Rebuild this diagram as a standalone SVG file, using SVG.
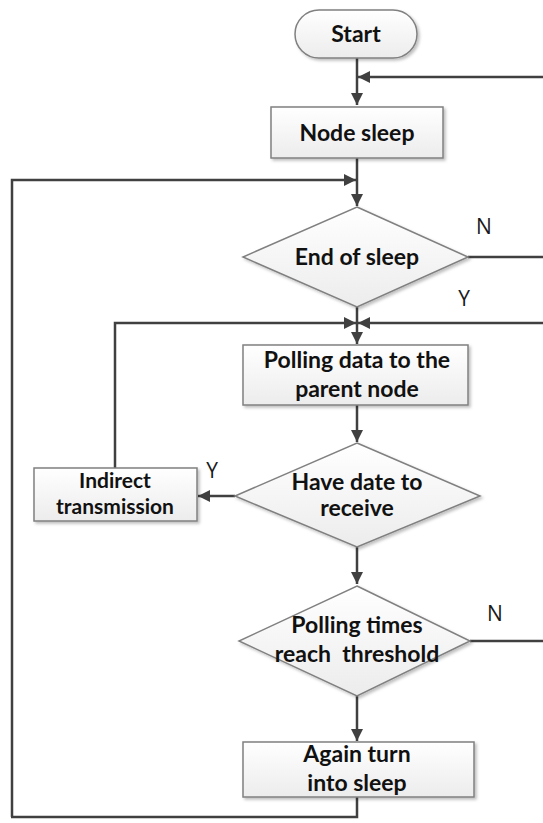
<svg xmlns="http://www.w3.org/2000/svg" width="543" height="823" viewBox="0 0 543 823">
<defs>
<linearGradient id="g" x1="0" y1="0" x2="0" y2="1">
<stop offset="0" stop-color="#ffffff"/>
<stop offset="1" stop-color="#ececec"/>
</linearGradient>
<filter id="sh" x="-10%" y="-10%" width="130%" height="140%">
<feDropShadow dx="2" dy="2" stdDeviation="1.5" flood-color="#000" flood-opacity="0.25"/>
</filter>
<marker id="a" viewBox="0 0 12 12" refX="12" refY="6" markerWidth="12" markerHeight="12" orient="auto" markerUnits="userSpaceOnUse">
<path d="M0,0 L12,6 L0,12 z" fill="#404040"/>
</marker>
</defs>
<style>
.n{fill:url(#g);stroke:#808080;stroke-width:1.5;filter:url(#sh)}
.t{font-family:Lato,"Open Sans",sans-serif;font-weight:bold;font-size:23px;fill:#111;text-anchor:middle}
.s{font-size:21px}
.l{font-family:"Open Sans",sans-serif;font-size:21px;fill:#1a1a1a;text-anchor:middle}
.c{fill:none;stroke:#404040;stroke-width:2.5}
</style>
<rect width="543" height="823" fill="#fff"/>
<g id="connectors">
<path class="c" d="M357,58 V105" marker-end="url(#a)"/>
<path class="c" d="M543,77 H358" marker-end="url(#a)"/>
<path class="c" d="M357,158 V206" marker-end="url(#a)"/>
<path class="c" d="M12,817 V180 H356" marker-end="url(#a)"/>
<path class="c" d="M468,257 H543"/>
<path class="c" d="M357,307 V344" marker-end="url(#a)"/>
<path class="c" d="M115,468 V323 H356" marker-end="url(#a)"/>
<path class="c" d="M543,323 H358" marker-end="url(#a)"/>
<path class="c" d="M357,405 V442" marker-end="url(#a)"/>
<path class="c" d="M235,496 H198" marker-end="url(#a)"/>
<path class="c" d="M357,547 V584" marker-end="url(#a)"/>
<path class="c" d="M470,641 H543"/>
<path class="c" d="M357,696 V741" marker-end="url(#a)"/>
<path class="c" d="M357,797 V817 H11"/>
</g>
<g id="start">
<rect class="n" x="295" y="10" width="122" height="48" rx="24"/>
<text class="t" x="356" y="42">Start</text>
</g>
<g id="node-sleep">
<rect class="n" x="271" y="107" width="172" height="51"/>
<text class="t" x="357" y="141">Node sleep</text>
</g>
<g id="end-of-sleep">
<polygon class="n" points="357,207 468,257 357,307 243,257"/>
<text class="t" x="357" y="265">End of sleep</text>
<text class="l" x="484" y="234">N</text>
<text class="l" x="464" y="306">Y</text>
</g>
<g id="polling-data">
<rect class="n" x="243" y="345" width="225" height="60"/>
<text class="t" x="357" y="368">Polling data to the</text>
<text class="t" x="357" y="397">parent node</text>
</g>
<g id="have-date">
<polygon class="n" points="357,443 480,496 357,547 235,496"/>
<text class="t" x="357" y="490">Have date to</text>
<text class="t" x="357" y="516">receive</text>
<text class="l" x="212" y="478">Y</text>
</g>
<g id="indirect">
<rect class="n" x="34" y="468" width="163" height="53"/>
<text class="t s" x="115" y="488">Indirect</text>
<text class="t s" x="115" y="514">transmission</text>
</g>
<g id="polling-times">
<polygon class="n" points="357,586 470,641 357,696 239,641"/>
<text class="t" x="357" y="633">Polling times</text>
<text class="t" x="357" y="662" xml:space="preserve">reach  threshold</text>
<text class="l" x="495" y="621">N</text>
</g>
<g id="again-sleep">
<rect class="n" x="243" y="742" width="231" height="55"/>
<text class="t" x="357" y="762">Again turn</text>
<text class="t" x="357" y="791">into sleep</text>
</g>
</svg>
